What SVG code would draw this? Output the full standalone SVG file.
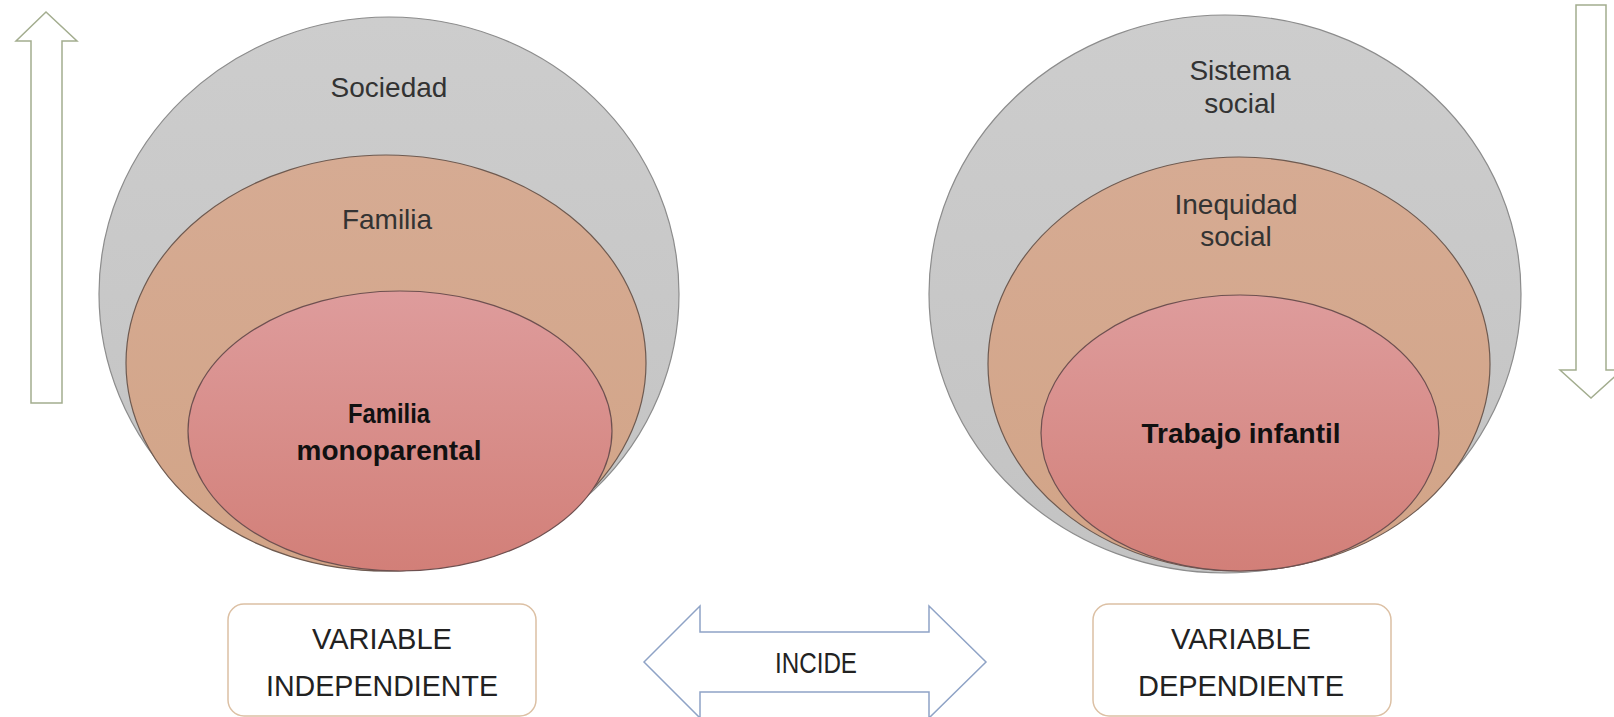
<svg xmlns="http://www.w3.org/2000/svg" width="1614" height="717" viewBox="0 0 1614 717">
<defs>
<linearGradient id="gGray" x1="0" y1="0" x2="0" y2="1"><stop offset="0" stop-color="#cdcdcd"/><stop offset="1" stop-color="#c3c3c3"/></linearGradient>
<linearGradient id="gTan" x1="0" y1="0" x2="0" y2="1"><stop offset="0" stop-color="#d6ab93"/><stop offset="1" stop-color="#d2a487"/></linearGradient>
<linearGradient id="gPink" x1="0" y1="0" x2="0" y2="1"><stop offset="0" stop-color="#de9c9c"/><stop offset="1" stop-color="#d27f78"/></linearGradient>
<style>
.outer{fill:url(#gGray);stroke:#8c8c8c;stroke-width:1.2}
.mid{fill:url(#gTan);stroke:#6e5a50;stroke-width:1.2}
.inner{fill:url(#gPink);stroke:#6e5050;stroke-width:1.2}
.lbl{font-family:"Liberation Sans",Arial,sans-serif;font-size:28px;fill:#333;text-anchor:middle}
.bold{font-family:"Liberation Sans",Arial,sans-serif;font-size:28px;font-weight:bold;fill:#111;text-anchor:middle}
.box{fill:#fff;stroke:#dcc0a4;stroke-width:1.5}
.btxt{font-family:"Liberation Sans",Arial,sans-serif;font-size:30px;fill:#222;text-anchor:middle}
.varrow{fill:#fff;stroke:#a3ad8f;stroke-width:1.5}
.harrow{fill:#fff;stroke:#8fa3c6;stroke-width:1.5}
</style>
</defs>
<rect width="1614" height="717" fill="#fff"/>
<g id="connectors">
<polygon id="arrow-up" class="varrow" points="46,12 77,41 62,41 62,403 31,403 31,41 16,41"/>
<polygon id="arrow-down" class="varrow" points="1576,5 1606,5 1606,370 1622,370 1591,398 1560,370 1576,370"/>
<g id="arrow-incide">
<polygon class="harrow" points="644,662 700,606 700,632 929,632 929,606 986,662 929,718 929,692 700,692 700,718"/>
<text class="btxt" x="816" y="673" textLength="82" lengthAdjust="spacingAndGlyphs">INCIDE</text>
</g>
</g>
<g id="left-set">
<g id="sociedad"><ellipse class="outer" cx="389" cy="294" rx="290" ry="277"/><text class="lbl" x="389" y="97">Sociedad</text></g>
<g id="familia"><ellipse class="mid" cx="386" cy="363" rx="260" ry="208"/><text class="lbl" x="387" y="229">Familia</text></g>
<g id="familia-monoparental"><ellipse class="inner" cx="400" cy="431" rx="212" ry="140"/>
<text class="bold" x="389" y="423" textLength="82" lengthAdjust="spacingAndGlyphs">Familia</text>
<text class="bold" x="389" y="460" textLength="185" lengthAdjust="spacingAndGlyphs">monoparental</text></g>
</g>
<g id="right-set">
<g id="sistema-social"><ellipse class="outer" cx="1225" cy="294" rx="296" ry="279"/><text class="lbl" x="1240" y="80">Sistema</text><text class="lbl" x="1240" y="113">social</text></g>
<g id="inequidad-social"><ellipse class="mid" cx="1239" cy="364" rx="251" ry="207"/><text class="lbl" x="1236" y="214">Inequidad</text><text class="lbl" x="1236" y="246">social</text></g>
<g id="trabajo-infantil"><ellipse class="inner" cx="1240" cy="433" rx="199" ry="138"/><text class="bold" x="1241" y="443">Trabajo infantil</text></g>
</g>
<g id="var-independiente"><rect class="box" x="228" y="604" width="308" height="112" rx="16"/>
<text class="btxt" x="382" y="649" textLength="140" lengthAdjust="spacingAndGlyphs">VARIABLE</text>
<text class="btxt" x="382" y="696" textLength="232" lengthAdjust="spacingAndGlyphs">INDEPENDIENTE</text></g>
<g id="var-dependiente"><rect class="box" x="1093" y="604" width="298" height="112" rx="16"/>
<text class="btxt" x="1241" y="649" textLength="140" lengthAdjust="spacingAndGlyphs">VARIABLE</text>
<text class="btxt" x="1241" y="696" textLength="206" lengthAdjust="spacingAndGlyphs">DEPENDIENTE</text></g>
</svg>
